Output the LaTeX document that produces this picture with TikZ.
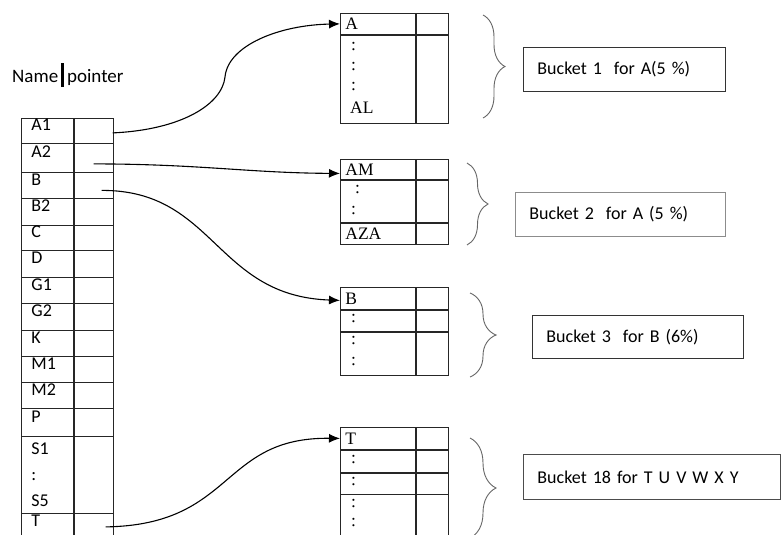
\documentclass[tikz,border=0pt]{standalone}
\usepackage{fontspec}
\setmainfont{Carlito}
\newfontfamily\bkfont{Liberation Serif}
\usetikzlibrary{arrows.meta, positioning, decorations.pathreplacing}
\tikzset{
  namecell/.style = {draw=black!85, line width=0.8pt, anchor=north west,
                     minimum width=52pt, text width=32pt, inner xsep=10pt,
                     align=left, font=\fontsize{18}{26}\selectfont},
  ptrcell/.style  = {draw=black!85, line width=0.8pt, anchor=north west,
                     minimum width=39pt, inner sep=0pt},
  bkcell/.style   = {draw=black!85, line width=0.8pt, anchor=north west,
                     minimum width=75pt, text width=65pt, inner xsep=5pt,
                     align=left, font=\bkfont\fontsize{17.5}{20}\selectfont},
  bkptr/.style    = {draw=black!85, line width=0.8pt, anchor=north west,
                     minimum width=32pt, inner sep=0pt},
  bktxt/.style    = {anchor=west, inner sep=0pt, font=\bkfont\fontsize{17.5}{20}\selectfont},
  lblbox/.style   = {draw=black!80, line width=0.9pt, anchor=north west,
                     inner xsep=14pt, align=left, font=\fontsize{18}{22}\selectfont},
  grp/.style      = {draw=black!60, line width=0.9pt, decorate,
                     decoration={brace, amplitude=#1}},
  ptr/.style      = {-{Latex[length=11pt, width=9pt]}, line width=1.1pt},
}

\begin{document}
\begin{tikzpicture}[x=1pt, y=-1pt]
  \clip (0,0) rectangle (784,535);

  % index table
  \node[anchor=west, inner sep=0pt, font=\fontsize{19}{22}\selectfont] (head) at (12,75)
    {Name\,\rule[-5pt]{2.6pt}{24pt}\,pointer};
  \foreach \lbl/\ytop/\ht in {A1/118/25, A2/143/29, B/172/26, B2/198/27, C/225/25,
                              D/250/27, G1/277/26, G2/303/27, K/330/26, M1/356/26,
                              M2/382/26, P/408/28, T/513/27} {
    \node[namecell, minimum height=\ht pt] (n\lbl) at (21,\ytop) {\lbl};
    \node[ptrcell, minimum height=\ht pt] (p\lbl) at (n\lbl.north east) {};
  }
  \node[namecell, minimum height=77pt] (nS) at (21,436) {S1\\:\\S5};
  \node[ptrcell, minimum height=77pt] (pS) at (nS.north east) {};

  % bucket 1
  \node[bkcell, minimum height=21pt] (bA) at (340,13) {A};
  \node[bkptr, minimum height=21pt] (bAp) at (bA.north east) {};
  \node[bkcell, minimum height=88pt] (bA2) at (bA.south west) {};
  \node[bkptr, minimum height=88pt] (bA2p) at (bA2.north east) {};
  \node[bktxt] (d11) at (351,47) {:};
  \node[bktxt] (d12) at (351,67) {:};
  \node[bktxt] (d13) at (351,87) {:};
  \node[bktxt] (bAL) at (350,108) {AL};

  % bucket 2
  \node[bkcell, minimum height=20pt] (bAM) at (340,159) {AM};
  \node[bkptr, minimum height=20pt] (bAMp) at (bAM.north east) {};
  \node[bkcell, minimum height=42pt] (bAM2) at (bAM.south west) {};
  \node[bkptr, minimum height=42pt] (bAM2p) at (bAM2.north east) {};
  \node[bkcell, minimum height=21pt] (bAZA) at (bAM2.south west) {AZA};
  \node[bkptr, minimum height=21pt] (bAZAp) at (bAZA.north east) {};
  \node[bktxt] (d21) at (355,190) {:};
  \node[bktxt] (d22) at (351,211) {:};

  % bucket 3
  \node[bkcell, minimum height=22pt] (bB) at (340,287) {B};
  \node[bkptr, minimum height=22pt] (bBp) at (bB.north east) {};
  \node[bkcell, minimum height=21pt] (bB2) at (bB.south west) {};
  \node[bkptr, minimum height=21pt] (bB2p) at (bB2.north east) {};
  \node[bkcell, minimum height=43pt] (bB3) at (bB2.south west) {};
  \node[bkptr, minimum height=43pt] (bB3p) at (bB3.north east) {};
  \node[bktxt] (d31) at (351,319) {:};
  \node[bktxt] (d32) at (351,341) {:};
  \node[bktxt] (d33) at (351,362) {:};

  % bucket 18
  \node[bkcell, minimum height=22pt] (bT) at (340,427) {T};
  \node[bkptr, minimum height=22pt] (bTp) at (bT.north east) {};
  \node[bkcell, minimum height=22pt] (bT2) at (bT.south west) {};
  \node[bkptr, minimum height=22pt] (bT2p) at (bT2.north east) {};
  \node[bkcell, minimum height=21pt] (bT3) at (bT2.south west) {};
  \node[bkptr, minimum height=21pt] (bT3p) at (bT3.north east) {};
  \node[bkcell, minimum height=50pt] (bT4) at (bT3.south west) {};
  \node[bkptr, minimum height=50pt] (bT4p) at (bT4.north east) {};
  \node[bktxt] (d41) at (351,460) {:};
  \node[bktxt] (d42) at (351,482) {:};
  \node[bktxt] (d43) at (351,504) {:};
  \node[bktxt] (d44) at (351,523) {:};

  % braces
  \draw[grp=22pt] (483,15) -- (483,118);
  \draw[grp=21pt] (467,163) -- (467,245);
  \draw[grp=26pt] (470,293) -- (470,377);
  \draw[grp=26pt] (470,438) -- (470,538);

  % bucket labels
  \node[lblbox, minimum width=202pt, minimum height=44pt, text width=174pt] (lb1) at (523,47)
    {Bucket 1\ \ for A(5 \%)};
  \node[lblbox, draw=black!45, minimum width=210pt, minimum height=44pt, text width=182pt] (lb2) at (515,192)
    {Bucket 2\ \ for A (5 \%)};
  \node[lblbox, minimum width=211pt, minimum height=43pt, text width=183pt] (lb3) at (532,315)
    {Bucket 3\ \ for B (6\%)};
  \node[lblbox, draw=black!70, minimum width=257pt, minimum height=45pt, text width=229pt] (lb4) at (523,454)
    {Bucket 18 for T U V W X Y};

  % pointers
  \draw[ptr] ([xshift=-1pt,yshift=-2pt]pA1.east) .. controls (180,130) and (222,105) .. (225,77)
    .. controls (228,45) and (280,25) .. (bA.west);
  \draw[ptr] ([yshift=-6pt]pA2.center) .. controls (200,164) and (250,173) .. ([yshift=-4pt]bAM.west);
  \draw[ptr] ([xshift=8pt,yshift=-5pt]pB.center) .. controls (215,190) and (215,296) .. ([yshift=-2pt]bB.west);
  \draw[ptr] ([xshift=12pt]pT.center) .. controls (235,525) and (220,437) .. (bT.west);
\end{tikzpicture}
\end{document}
